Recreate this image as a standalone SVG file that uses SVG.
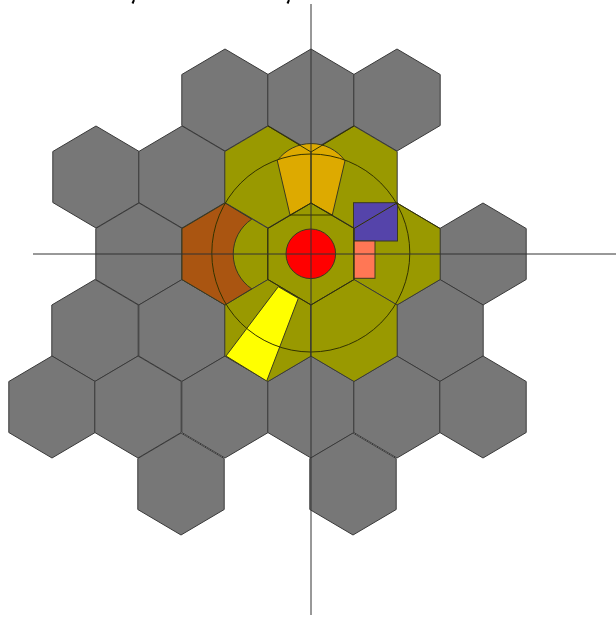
<svg xmlns="http://www.w3.org/2000/svg" width="616" height="617" viewBox="0 0 616 617">
<style>
.g{fill:#777777}.o{fill:#999900}
.e{stroke:#3a3a3a;stroke-width:1;stroke-linejoin:round}
.l{fill:none;stroke:#333300;stroke-width:1}
.a{fill:none;stroke:#333333;stroke-width:1}
.s{stroke:#3a3a20;stroke-width:1}
</style>
<defs><polygon id="h" points="0,-51 43.2,-25.5 43.2,25.5 0,51 -43.2,25.5 -43.2,-25.5"/></defs>
<rect width="616" height="617" fill="#ffffff"/>
<g id="hexes-gray" class="g e">
<use href="#h" x="225" y="100"/><use href="#h" x="311" y="100"/><use href="#h" x="397" y="100"/>
<use href="#h" x="96" y="177"/><use href="#h" x="182" y="177"/>
<use href="#h" x="139" y="254"/><use href="#h" x="483" y="254"/>
<use href="#h" x="95" y="330.5"/><use href="#h" x="182" y="330.5"/><use href="#h" x="440" y="330.5"/>
<use href="#h" x="52" y="407"/><use href="#h" x="138" y="407"/><use href="#h" x="225" y="407"/><use href="#h" x="311" y="407"/><use href="#h" x="397" y="407"/><use href="#h" x="483" y="407"/>
<use href="#h" x="181" y="484"/><use href="#h" x="353" y="484"/>
</g>
<g id="hexes-olive" class="o e">
<use href="#h" x="268" y="177"/><use href="#h" x="354" y="177"/>
<use href="#h" x="225" y="254"/><use href="#h" x="311" y="254"/><use href="#h" x="397" y="254"/>
<use href="#h" x="268" y="330.5"/><use href="#h" x="354" y="330.5"/>
</g>
<g id="sector-brown"><path class="s" d="M225,203 L182,228.500 L182,279.500 L225,305 L251.700,288.800 A42,42 0 0 1 251.700,219.200 Z" fill="#aa5511"/></g>
<g id="sector-gold"><path class="s" d="M277.300,160.700 A42,42 0 0 1 345,160.700 L332.300,215 L311,203 L290,215 Z" fill="#ddaa00"/></g>
<g id="sector-yellow"><polygon class="s" points="278.300,286.700 298.300,298.300 266.700,381 226,356" fill="#ffff00"/></g>
<g id="rect-blue"><rect class="s" x="353.500" y="202.700" width="44" height="38.300" fill="#5544aa"/></g>
<g id="rect-salmon"><rect class="s" x="353.500" y="241" width="21.500" height="37.300" fill="#ff7755"/></g>
<g id="disc-red"><circle class="s" cx="310.800" cy="253.800" r="24.800" fill="#ff0000"/></g>
<g id="overlay">
<polygon class="l" points="311,203 354.200,228.500 354.200,279.500 311,305 267.800,279.500 267.800,228.500"/>
<polyline class="l" points="311,152 311,203"/>
<polyline class="l" points="268,126 311,152 354,126"/>
<line class="l" x1="290" y1="215" x2="332.300" y2="215"/>
<line class="l" x1="354" y1="228.500" x2="397" y2="203"/>
<line class="l" x1="397" y1="203" x2="440" y2="228.500"/>
<circle class="l" cx="310.800" cy="253" r="99"/>
</g>
<g id="connectors">
<line class="a" x1="33" y1="254" x2="616" y2="254"/>
<line class="a" x1="311" y1="4" x2="311" y2="615"/>
</g>
<g id="cropped-marks">
<line x1="134" y1="0" x2="132.500" y2="3.500" stroke="#000000" stroke-width="2"/>
<line x1="289" y1="0" x2="287.500" y2="3.500" stroke="#000000" stroke-width="2"/>
</g>
</svg>
